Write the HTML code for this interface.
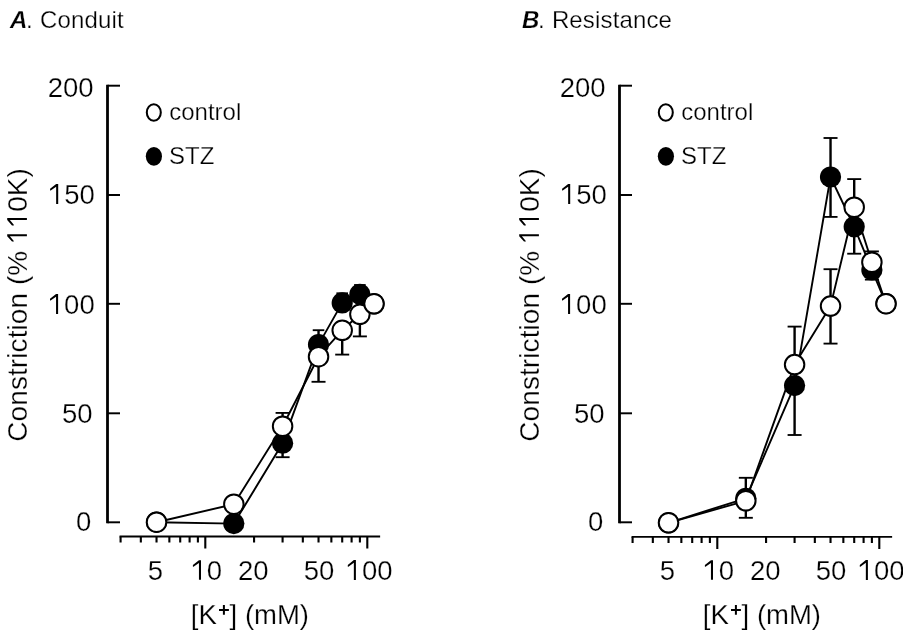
<!DOCTYPE html>
<html><head><meta charset="utf-8"><style>
html,body{margin:0;padding:0;background:#fff;}
body{width:903px;height:631px;overflow:hidden;}
svg{display:block;will-change:transform;}
text{font-family:"Liberation Sans", sans-serif;fill:#000;stroke:#fff;stroke-width:0.25px;}
</style></head><body>
<svg width="903" height="631" viewBox="0 0 903 631">
<rect width="903" height="631" fill="#fff"/>
<text x="10.00" y="27.90" font-size="24" font-weight="bold" font-style="italic">A</text>
<text x="25.90" y="27.90" font-size="24">.</text>
<text x="40.00" y="27.90" font-size="24" letter-spacing="0.15">Conduit</text>
<path d="M107.5,84.75 V523.25" stroke="#000" stroke-width="2.8"/>
<path d="M107.5,522.3 H120.0" stroke="#000" stroke-width="1.95"/>
<path d="M107.5,413.3 H120.0" stroke="#000" stroke-width="1.95"/>
<path d="M107.5,303.8 H120.0" stroke="#000" stroke-width="1.95"/>
<path d="M107.5,195.0 H120.0" stroke="#000" stroke-width="1.95"/>
<path d="M107.5,85.7 H120.0" stroke="#000" stroke-width="1.95"/>
<text x="47.70" y="97.00" font-size="27.5">200</text>
<path d="M56.15,184.00 H58.20 V203.90 H56.15 Z M56.15,184.00 L56.15,186.70 L50.70,190.60 L50.10,190.60 L50.10,188.80 Z" fill="#000"/>
<text x="64.20" y="204.00" font-size="27.5">50</text>
<path d="M56.05,294.00 H58.10 V313.90 H56.05 Z M56.05,294.00 L56.05,296.70 L50.60,300.60 L50.00,300.60 L50.00,298.80 Z" fill="#000"/>
<text x="64.10" y="314.00" font-size="27.5">00</text>
<text x="62.00" y="423.00" font-size="27.5">50</text>
<text x="76.00" y="531.00" font-size="27.5">0</text>
<path d="M119.54,536.5 H380.13" stroke="#000" stroke-width="1.9"/>
<path d="M120.59,536.5 V542.6M140.83,536.5 V542.6M156.53,536.5 V542.6M169.36,536.5 V542.6M180.21,536.5 V542.6M189.60,536.5 V542.6M197.89,536.5 V542.6M254.07,536.5 V542.6M282.59,536.5 V542.6M302.83,536.5 V542.6M318.53,536.5 V542.6M331.36,536.5 V542.6M342.21,536.5 V542.6M351.60,536.5 V542.6M359.89,536.5 V542.6M205.30,536.5 V548.5M367.30,536.5 V548.5" stroke="#000" stroke-width="2.1"/>
<text x="147.80" y="580.00" font-size="27.5">5</text>
<path d="M198.95,560.20 H201.00 V579.80 H198.95 Z M198.95,560.20 L198.95,562.90 L193.50,566.80 L192.90,566.80 L192.90,565.00 Z" fill="#000"/>
<text x="206.80" y="580.00" font-size="27.5">0</text>
<text x="238.00" y="580.00" font-size="27.5">20</text>
<text x="303.70" y="580.00" font-size="27.5">50</text>
<path d="M353.85,560.10 H355.90 V579.90 H353.85 Z M353.85,560.10 L353.85,562.80 L348.40,566.70 L347.80,566.70 L347.80,564.90 Z" fill="#000"/>
<text x="361.90" y="580.00" font-size="27.5">00</text>
<text x="190.75" y="623.80" font-size="27.5">[K</text>
<path d="M219.0,609.05 H228.9 V611.0 H219.0 Z M222.9,605.0 H224.9 V614.8 H222.9 Z" fill="#000"/>
<text x="229.50" y="623.80" font-size="27.5">]</text>
<text x="244.90" y="623.80" font-size="27.5">(mM)</text>
<g transform="translate(26.9,441.7) rotate(-90)">
<text x="0" y="0" font-size="28" letter-spacing="0.08">Constriction (% </text>
<path d="M205.45,-19.70 H207.50 V0.00 H205.45 Z M205.45,-19.70 L205.45,-17.00 L200.70,-13.10 L200.10,-13.10 L200.10,-14.90 Z" fill="#000"/>
<path d="M221.65,-19.70 H223.70 V0.00 H221.65 Z M221.65,-19.70 L221.65,-17.00 L216.90,-13.10 L216.30,-13.10 L216.30,-14.90 Z" fill="#000"/>
<text x="229.9" y="0" font-size="28" letter-spacing="0.08">0K)</text>
</g>
<ellipse cx="153.8" cy="112.5" rx="7.0" ry="8.3" fill="#fff" stroke="#000" stroke-width="2.05"/>
<text x="169.20" y="120.00" font-size="24">control</text>
<ellipse cx="153.9" cy="156.3" rx="8.1" ry="9.4" fill="#000"/>
<text x="169.10" y="164.00" font-size="24">STZ</text>
<polyline points="156.53,522.20 233.83,504.20 282.59,426.20 318.53,356.70 342.21,330.30 359.89,314.30 374.01,303.80" fill="none" stroke="#000" stroke-width="1.9" stroke-linejoin="round"/>
<polyline points="156.53,522.20 233.83,523.60 282.59,443.20 318.53,344.60 342.21,302.90 359.89,294.30 374.01,303.80" fill="none" stroke="#000" stroke-width="1.9" stroke-linejoin="round"/>
<path d="M282.59,426.2 V412.9" stroke="#000" stroke-width="2.4"/>
<path d="M275.59,412.9 H289.59" stroke="#000" stroke-width="1.85"/>
<path d="M318.53,356.7 V381.8" stroke="#000" stroke-width="2.4"/>
<path d="M311.53,381.8 H325.53" stroke="#000" stroke-width="1.85"/>
<path d="M342.21,330.3 V354.6" stroke="#000" stroke-width="2.4"/>
<path d="M335.21,354.6 H349.21" stroke="#000" stroke-width="1.85"/>
<path d="M359.89,314.3 V336.4" stroke="#000" stroke-width="2.4"/>
<path d="M352.89,336.4 H366.89" stroke="#000" stroke-width="1.85"/>
<path d="M282.59,443.2 V457.2" stroke="#000" stroke-width="2.4"/>
<path d="M275.59,457.2 H289.59" stroke="#000" stroke-width="1.85"/>
<path d="M318.53,344.6 V330.2" stroke="#000" stroke-width="2.4"/>
<path d="M312.73,330.2 H324.33" stroke="#000" stroke-width="1.85"/>
<path d="M342.21,302.9 V293.3" stroke="#000" stroke-width="2.4"/>
<path d="M336.41,293.3 H348.01" stroke="#000" stroke-width="1.85"/>
<path d="M359.89,294.3 V285" stroke="#000" stroke-width="2.4"/>
<path d="M354.09,285 H365.69" stroke="#000" stroke-width="1.85"/>
<circle cx="156.53" cy="522.2" r="10.6" fill="#000"/>
<circle cx="233.83" cy="523.6" r="10.6" fill="#000"/>
<circle cx="282.59" cy="443.2" r="10.6" fill="#000"/>
<circle cx="318.53" cy="344.6" r="10.6" fill="#000"/>
<circle cx="342.21" cy="302.9" r="10.6" fill="#000"/>
<circle cx="359.89" cy="294.3" r="10.6" fill="#000"/>
<circle cx="374.01" cy="303.8" r="10.6" fill="#000"/>
<circle cx="156.53" cy="522.2" r="9.75" fill="#fff" stroke="#000" stroke-width="2.0"/>
<circle cx="233.83" cy="504.2" r="9.75" fill="#fff" stroke="#000" stroke-width="2.0"/>
<circle cx="282.59" cy="426.2" r="9.75" fill="#fff" stroke="#000" stroke-width="2.0"/>
<circle cx="318.53" cy="356.7" r="9.75" fill="#fff" stroke="#000" stroke-width="2.0"/>
<circle cx="342.21" cy="330.3" r="9.75" fill="#fff" stroke="#000" stroke-width="2.0"/>
<circle cx="359.89" cy="314.3" r="9.75" fill="#fff" stroke="#000" stroke-width="2.0"/>
<circle cx="374.01" cy="303.8" r="9.75" fill="#fff" stroke="#000" stroke-width="2.0"/>
<text x="522.00" y="27.90" font-size="24" font-weight="bold" font-style="italic">B</text>
<text x="537.90" y="27.90" font-size="24">.</text>
<text x="551.90" y="27.90" font-size="24" letter-spacing="0.15">Resistance</text>
<path d="M619.5,84.75 V523.25" stroke="#000" stroke-width="2.8"/>
<path d="M619.5,522.3 H632.0" stroke="#000" stroke-width="1.95"/>
<path d="M619.5,413.3 H632.0" stroke="#000" stroke-width="1.95"/>
<path d="M619.5,303.8 H632.0" stroke="#000" stroke-width="1.95"/>
<path d="M619.5,195.0 H632.0" stroke="#000" stroke-width="1.95"/>
<path d="M619.5,85.7 H632.0" stroke="#000" stroke-width="1.95"/>
<text x="559.70" y="97.00" font-size="27.5">200</text>
<path d="M568.15,184.00 H570.20 V203.90 H568.15 Z M568.15,184.00 L568.15,186.70 L562.70,190.60 L562.10,190.60 L562.10,188.80 Z" fill="#000"/>
<text x="576.20" y="204.00" font-size="27.5">50</text>
<path d="M568.05,294.00 H570.10 V313.90 H568.05 Z M568.05,294.00 L568.05,296.70 L562.60,300.60 L562.00,300.60 L562.00,298.80 Z" fill="#000"/>
<text x="576.10" y="314.00" font-size="27.5">00</text>
<text x="574.00" y="423.00" font-size="27.5">50</text>
<text x="588.00" y="531.00" font-size="27.5">0</text>
<path d="M631.54,536.9 H892.13" stroke="#000" stroke-width="1.9"/>
<path d="M632.59,536.9 V543.0M652.83,536.9 V543.0M668.53,536.9 V543.0M681.36,536.9 V543.0M692.21,536.9 V543.0M701.60,536.9 V543.0M709.89,536.9 V543.0M766.07,536.9 V543.0M794.59,536.9 V543.0M814.83,536.9 V543.0M830.53,536.9 V543.0M843.36,536.9 V543.0M854.21,536.9 V543.0M863.60,536.9 V543.0M871.89,536.9 V543.0M717.30,536.9 V548.9M879.30,536.9 V548.9" stroke="#000" stroke-width="2.1"/>
<text x="659.80" y="580.00" font-size="27.5">5</text>
<path d="M710.95,560.20 H713.00 V579.80 H710.95 Z M710.95,560.20 L710.95,562.90 L705.50,566.80 L704.90,566.80 L704.90,565.00 Z" fill="#000"/>
<text x="718.80" y="580.00" font-size="27.5">0</text>
<text x="750.00" y="580.00" font-size="27.5">20</text>
<text x="815.70" y="580.00" font-size="27.5">50</text>
<path d="M865.85,560.10 H867.90 V579.90 H865.85 Z M865.85,560.10 L865.85,562.80 L860.40,566.70 L859.80,566.70 L859.80,564.90 Z" fill="#000"/>
<text x="873.90" y="580.00" font-size="27.5">00</text>
<text x="702.75" y="623.80" font-size="27.5">[K</text>
<path d="M731.0,609.05 H740.9 V611.0 H731.0 Z M734.9,605.0 H736.9 V614.8 H734.9 Z" fill="#000"/>
<text x="741.50" y="623.80" font-size="27.5">]</text>
<text x="756.90" y="623.80" font-size="27.5">(mM)</text>
<g transform="translate(538.9,441.7) rotate(-90)">
<text x="0" y="0" font-size="28" letter-spacing="0.08">Constriction (% </text>
<path d="M205.45,-19.70 H207.50 V0.00 H205.45 Z M205.45,-19.70 L205.45,-17.00 L200.70,-13.10 L200.10,-13.10 L200.10,-14.90 Z" fill="#000"/>
<path d="M221.65,-19.70 H223.70 V0.00 H221.65 Z M221.65,-19.70 L221.65,-17.00 L216.90,-13.10 L216.30,-13.10 L216.30,-14.90 Z" fill="#000"/>
<text x="229.9" y="0" font-size="28" letter-spacing="0.08">0K)</text>
</g>
<ellipse cx="665.8" cy="112.5" rx="7.0" ry="8.3" fill="#fff" stroke="#000" stroke-width="2.05"/>
<text x="681.20" y="120.00" font-size="24">control</text>
<ellipse cx="665.9" cy="156.3" rx="8.1" ry="9.4" fill="#000"/>
<text x="681.10" y="164.00" font-size="24">STZ</text>
<polyline points="668.53,522.80 745.83,500.80 794.59,364.60 830.53,306.10 854.21,207.20 871.89,262.20 886.01,303.70" fill="none" stroke="#000" stroke-width="1.9" stroke-linejoin="round"/>
<polyline points="668.53,522.80 745.83,498.30 794.59,385.60 830.53,177.00 854.21,226.80 871.89,270.00 886.01,303.70" fill="none" stroke="#000" stroke-width="1.9" stroke-linejoin="round"/>
<path d="M745.83,500.8 V517.8" stroke="#000" stroke-width="2.4"/>
<path d="M738.83,517.8 H752.83" stroke="#000" stroke-width="1.85"/>
<path d="M794.59,364.6 V326.6" stroke="#000" stroke-width="2.4"/>
<path d="M787.59,326.6 H801.59" stroke="#000" stroke-width="1.85"/>
<path d="M830.53,306.1 V269.2" stroke="#000" stroke-width="2.4"/>
<path d="M823.53,269.2 H837.53" stroke="#000" stroke-width="1.85"/>
<path d="M830.53,306.1 V343.6" stroke="#000" stroke-width="2.4"/>
<path d="M823.53,343.6 H837.53" stroke="#000" stroke-width="1.85"/>
<path d="M854.21,207.2 V179.1" stroke="#000" stroke-width="2.4"/>
<path d="M847.21,179.1 H861.21" stroke="#000" stroke-width="1.85"/>
<path d="M871.89,262.2 V251.4" stroke="#000" stroke-width="2.4"/>
<path d="M864.89,251.4 H878.89" stroke="#000" stroke-width="1.85"/>
<path d="M745.83,498.3 V477.8" stroke="#000" stroke-width="2.4"/>
<path d="M738.83,477.8 H752.83" stroke="#000" stroke-width="1.85"/>
<path d="M794.59,385.6 V435" stroke="#000" stroke-width="2.4"/>
<path d="M787.59,435 H801.59" stroke="#000" stroke-width="1.85"/>
<path d="M830.53,177 V138" stroke="#000" stroke-width="2.4"/>
<path d="M823.53,138 H837.53" stroke="#000" stroke-width="1.85"/>
<path d="M830.53,177 V216.9" stroke="#000" stroke-width="2.4"/>
<path d="M823.53,216.9 H837.53" stroke="#000" stroke-width="1.85"/>
<path d="M854.21,226.8 V253.7" stroke="#000" stroke-width="2.4"/>
<path d="M847.21,253.7 H861.21" stroke="#000" stroke-width="1.85"/>
<path d="M871.89,270 V279.6" stroke="#000" stroke-width="2.4"/>
<path d="M864.89,279.6 H878.89" stroke="#000" stroke-width="1.85"/>
<circle cx="668.53" cy="522.8" r="10.6" fill="#000"/>
<circle cx="668.53" cy="522.8" r="9.75" fill="#fff" stroke="#000" stroke-width="2.0"/>
<circle cx="745.83" cy="498.3" r="10.6" fill="#000"/>
<circle cx="745.83" cy="500.8" r="9.75" fill="#fff" stroke="#000" stroke-width="2.0"/>
<circle cx="794.59" cy="385.6" r="10.6" fill="#000"/>
<circle cx="794.59" cy="364.6" r="9.75" fill="#fff" stroke="#000" stroke-width="2.0"/>
<circle cx="830.53" cy="177" r="10.6" fill="#000"/>
<circle cx="830.53" cy="306.1" r="9.75" fill="#fff" stroke="#000" stroke-width="2.0"/>
<circle cx="854.21" cy="207.2" r="9.75" fill="#fff" stroke="#000" stroke-width="2.0"/>
<circle cx="854.21" cy="226.8" r="10.6" fill="#000"/>
<circle cx="871.89" cy="270" r="10.6" fill="#000"/>
<circle cx="871.89" cy="262.2" r="9.75" fill="#fff" stroke="#000" stroke-width="2.0"/>
<circle cx="886.01" cy="303.7" r="10.6" fill="#000"/>
<circle cx="886.01" cy="303.7" r="9.75" fill="#fff" stroke="#000" stroke-width="2.0"/>
</svg>
</body></html>
